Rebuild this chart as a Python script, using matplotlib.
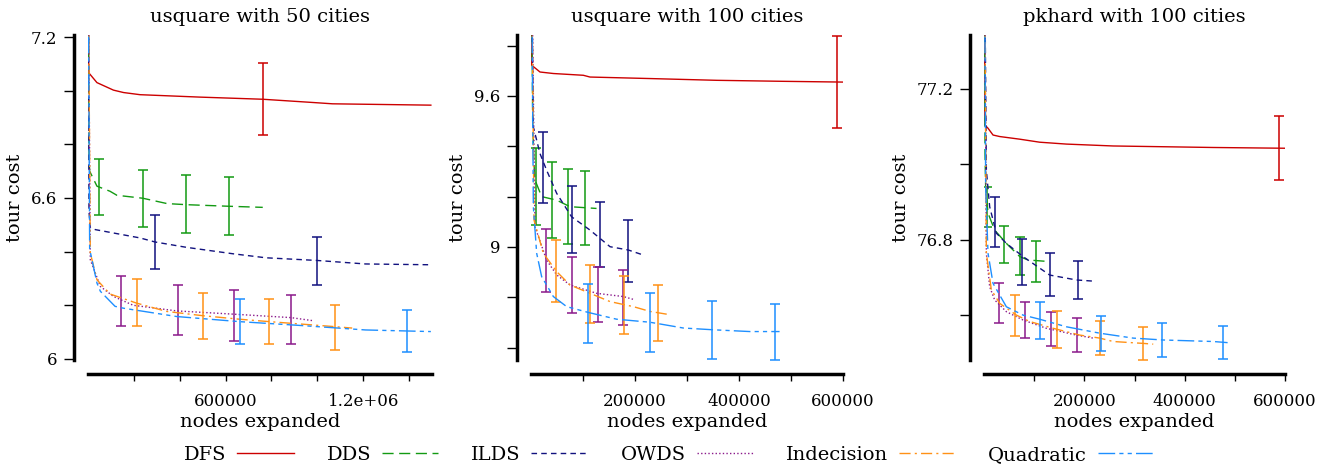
import matplotlib
matplotlib.use('Agg')
import matplotlib.pyplot as plt

plt.rcParams['font.family'] = ['DejaVu Serif']
plt.rcParams['font.size'] = 12

# algorithms, colours and line styles
algos = ['DFS', 'DDS', 'ILDS', 'OWDS', 'Indecision', 'Quadratic']
colors = ['#cc0000', '#139a13', '#12127f', '#8b1a8b', '#ff9116', '#1e8fff']
dashes = [(), (8, 4), (4, 3), (1, 1.6), (8, 3, 1.5, 3), (12, 3, 3, 3, 3, 3)]

titles = ['usquare with 50 cities', 'usquare with 100 cities', 'pkhard with 100 cities']

# --- usquare with 50 cities ---
us50_x = {
    'DFS': [1000, 2900, 39000, 111000, 155000, 227000, 487000, 762000, 979000, 1066000, 1495000],
    'DDS': [1000, 4300, 7200, 39000, 96000, 126000, 239000, 345000, 429000, 617000, 762000],
    'ILDS': [1000, 4300, 10000, 32000, 227000, 292000, 429000, 632000, 776000, 1000000, 1210000, 1495000],
    'OWDS': [1000, 10000, 54000, 111000, 197000, 387000, 632000, 885000, 986000],
    'Indecision': [1000, 10000, 39000, 96000, 212000, 343000, 502000, 661000, 791000, 1066000, 1152000],
    'Quadratic': [1000, 7200, 39000, 54000, 118000, 155000, 387000, 661000, 921000, 1210000, 1495000],
}
us50_y = {
    'DFS': [7.5, 7.067, 7.030, 7.002, 6.993, 6.985, 6.976, 6.968, 6.956, 6.951, 6.946],
    'DDS': [7.5, 6.75, 6.70, 6.644, 6.625, 6.61, 6.599, 6.579, 6.575, 6.569, 6.565],
    'ILDS': [7.5, 6.55, 6.49, 6.482, 6.451, 6.436, 6.416, 6.392, 6.377, 6.367, 6.354, 6.351],
    'OWDS': [7.5, 6.37, 6.27, 6.233, 6.2, 6.179, 6.167, 6.154, 6.142],
    'Indecision': [7.5, 6.395, 6.295, 6.242, 6.208, 6.177, 6.161, 6.148, 6.139, 6.121, 6.115],
    'Quadratic': [7.5, 6.41, 6.283, 6.252, 6.196, 6.189, 6.158, 6.139, 6.125, 6.108, 6.102],
}
us50_ex = {
    'DFS': [762000], 'DDS': [46000, 239000, 429000, 617000], 'ILDS': [292000, 1000000],
    'OWDS': [143000, 393000, 636000, 885000], 'Indecision': [215000, 502000, 791000, 1077000],
    'Quadratic': [664000, 1391000],
}
us50_ey = {
    'DFS': [6.968], 'DDS': [6.64, 6.599, 6.577, 6.569], 'ILDS': [6.436, 6.365],
    'OWDS': [6.215, 6.181, 6.162, 6.147], 'Indecision': [6.209, 6.159, 6.139, 6.117],
    'Quadratic': [6.14, 6.103],
}
us50_err = {
    'DFS': [0.134], 'DDS': [0.105, 0.106, 0.108, 0.108], 'ILDS': [0.100, 0.089],
    'OWDS': [0.093, 0.093, 0.094, 0.091], 'Indecision': [0.088, 0.086, 0.084, 0.083],
    'Quadratic': [0.085, 0.078],
}

# --- usquare with 100 cities ---
us100_x = {
    'DFS': [1000, 1300, 17300, 43000, 100600, 113500, 228800, 357000, 485000, 599000],
    'DDS': [1000, 3200, 5800, 7700, 20500, 49400, 75000, 126000],
    'ILDS': [1000, 4500, 17300, 30000, 49400, 78000, 113500, 152000, 187000, 216000],
    'OWDS': [1000, 7700, 30000, 49400, 75000, 126000, 177600, 200000],
    'Indecision': [1000, 5800, 23700, 49400, 75000, 113500, 152000, 196800, 228800, 261000],
    'Quadratic': [1000, 4500, 10900, 20500, 43000, 68600, 110000, 164700, 228800, 293000, 350600, 421000, 478000],
}
us100_y = {
    'DFS': [10.2, 9.722, 9.695, 9.689, 9.682, 9.675, 9.669, 9.662, 9.658, 9.655],
    'DDS': [10.2, 9.5, 9.33, 9.266, 9.2, 9.186, 9.16, 9.153],
    'ILDS': [10.2, 9.477, 9.371, 9.305, 9.213, 9.12, 9.067, 9.001, 8.988, 8.968],
    'OWDS': [10.2, 9.08, 8.948, 8.889, 8.849, 8.816, 8.803, 8.79],
    'Indecision': [10.2, 9.107, 8.975, 8.902, 8.849, 8.816, 8.783, 8.763, 8.744, 8.733],
    'Quadratic': [10.2, 9.16, 8.975, 8.882, 8.803, 8.763, 8.74, 8.713, 8.701, 8.678, 8.671, 8.664, 8.664],
}
us100_ex = {
    'DFS': [588000], 'DDS': [9000, 40000, 72000, 104000], 'ILDS': [24000, 78000, 133000, 187000],
    'OWDS': [29000, 78000, 128000, 176000], 'Indecision': [49000, 114000, 179000, 245000],
    'Quadratic': [110000, 229000, 349000, 469000],
}
us100_ey = {
    'DFS': [9.655], 'DDS': [9.24, 9.186, 9.161, 9.155], 'ILDS': [9.315, 9.11, 9.048, 8.983],
    'OWDS': [8.948, 8.849, 8.811, 8.8], 'Indecision': [8.905, 8.814, 8.77, 8.737],
    'Quadratic': [8.736, 8.701, 8.67, 8.663],
}
us100_err = {
    'DFS': [0.182], 'DDS': [0.154, 0.152, 0.148, 0.148], 'ILDS': [0.142, 0.133, 0.129, 0.124],
    'OWDS': [0.125, 0.113, 0.108, 0.11], 'Indecision': [0.124, 0.115, 0.114, 0.112],
    'Quadratic': [0.118, 0.118, 0.114, 0.112],
}

# --- pkhard with 100 cities ---
pk100_x = {
    'DFS': [1000, 1300, 8000, 18000, 31300, 71200, 111000, 164300, 257400, 357200, 457000, 600000],
    'DDS': [1000, 2000, 3300, 8000, 21300, 44600, 71200, 87800, 127700],
    'ILDS': [1000, 4700, 11300, 24600, 44600, 77800, 131000, 184300, 217500],
    'OWDS': [1000, 4700, 11300, 21300, 44600, 77800, 124400, 184300, 217500],
    'Indecision': [1000, 4700, 14600, 31300, 64500, 91100, 137700, 190900, 230800, 257400, 317300, 337300],
    'Quadratic': [1000, 3300, 8000, 18000, 44600, 77800, 111000, 164300, 230800, 297300, 357200, 457000, 485600],
}
pk100_y = {
    'DFS': [77.6, 77.105, 77.096, 77.078, 77.074, 77.067, 77.059, 77.054, 77.049, 77.047, 77.045, 77.043],
    'DDS': [77.6, 77.03, 76.941, 76.871, 76.826, 76.791, 76.756, 76.747, 76.743],
    'ILDS': [77.6, 76.985, 76.888, 76.818, 76.791, 76.756, 76.707, 76.694, 76.691],
    'OWDS': [77.6, 76.765, 76.676, 76.641, 76.61, 76.588, 76.566, 76.548, 76.54],
    'Indecision': [77.6, 76.765, 76.668, 76.632, 76.601, 76.584, 76.566, 76.548, 76.54, 76.531, 76.526, 76.524],
    'Quadratic': [77.6, 76.941, 76.765, 76.685, 76.623, 76.601, 76.59, 76.57, 76.553, 76.54, 76.535, 76.531, 76.528],
}
pk100_ex = {
    'DFS': [589000], 'DDS': [6000, 39000, 72500, 104000], 'ILDS': [21000, 76500, 132000, 187500],
    'OWDS': [29000, 81000, 133000, 185500], 'Indecision': [61000, 146000, 231000, 316000],
    'Quadratic': [111000, 233000, 355000, 477000],
}
pk100_ey = {
    'DFS': [77.043], 'DDS': [76.888, 76.788, 76.758, 76.742], 'ILDS': [76.848, 76.742, 76.708, 76.694],
    'OWDS': [76.633, 76.587, 76.565, 76.548], 'Indecision': [76.60, 76.563, 76.540, 76.526],
    'Quadratic': [76.586, 76.553, 76.535, 76.528],
}
pk100_err = {
    'DFS': [0.085], 'DDS': [0.053, 0.048, 0.051, 0.054], 'ILDS': [0.066, 0.061, 0.057, 0.051],
    'OWDS': [0.052, 0.048, 0.045, 0.046], 'Indecision': [0.054, 0.05, 0.044, 0.044],
    'Quadratic': [0.049, 0.046, 0.044, 0.043],
}

# axis ticks and labels
us50_xticks = [200000, 400000, 600000, 800000, 1000000, 1200000, 1400000]
us50_xlabels = ['', '', '600000', '', '', '1.2e+06', '']
us50_yticks = [6.0, 6.2, 6.4, 6.6, 6.8, 7.0, 7.2]
us50_ylabels = ['6', '', '', '6.6', '', '', '7.2']

us100_xticks = [100000, 200000, 300000, 400000, 500000, 600000]
us100_xlabels = ['', '200000', '', '400000', '', '600000']
us100_yticks = [8.6, 8.8, 9.0, 9.2, 9.4, 9.6, 9.8]
us100_ylabels = ['', '', '9', '', '', '9.6', '']

pk100_xticks = [100000, 200000, 300000, 400000, 500000, 600000]
pk100_xlabels = ['', '200000', '', '400000', '', '600000']
pk100_yticks = [76.6, 76.8, 77.0, 77.2]
pk100_ylabels = ['', '76.8', '', '77.2']

panels = [
    (us50_x, us50_y, us50_ex, us50_ey, us50_err, us50_xticks, us50_xlabels, us50_yticks, us50_ylabels,
     (0, 1500000), (5.996, 7.2075)),
    (us100_x, us100_y, us100_ex, us100_ey, us100_err, us100_xticks, us100_xlabels, us100_yticks, us100_ylabels,
     (0, 600000), (8.551, 9.842)),
    (pk100_x, pk100_y, pk100_ex, pk100_ey, pk100_err, pk100_xticks, pk100_xlabels, pk100_yticks, pk100_ylabels,
     (0, 600000), (76.482, 77.343)),
]

W, H = 1325, 470
fig = plt.figure(figsize=(W / 100, H / 100), dpi=100)

# axes boxes in pixels: left, right, top, bottom
boxes = [(88, 432, 35, 360), (531, 843, 35, 360), (984, 1285, 35, 360)]
ylabel_x = [-0.185, -0.205, -0.246]

handles = []
for k, (px, py, ex, ey, ee, xt, xl, yt, yl, xlim, ylim) in enumerate(panels):
    l, r, t, b = boxes[k]
    ax = fig.add_axes([l / W, (H - b) / H, (r - l) / W, (b - t) / H])
    for name, c, d in zip(algos, colors, dashes):
        line, = ax.plot(px[name], py[name], color=c, lw=1.0, label=name)
        if d:
            line.set_dashes(d)
        ax.errorbar(ex[name], ey[name], yerr=ee[name], fmt='none', ecolor=c,
                    elinewidth=1.3, capsize=3.6, capthick=1.3, alpha=0.85)
        if k == 0:
            handles.append(line)
    ax.set_xlim(*xlim)
    ax.set_ylim(*ylim)
    ax.set_xticks(xt)
    ax.set_xticklabels(xl)
    ax.set_yticks(yt)
    ax.set_yticklabels(yl)
    for s in ['top', 'right']:
        ax.spines[s].set_visible(False)
    for s in ['left', 'bottom']:
        ax.spines[s].set_position(('outward', 10))
        ax.spines[s].set_linewidth(2.5)
    ax.tick_params(direction='out', width=1.0, labelsize=12)
    ax.tick_params(axis='x', length=5, pad=9)
    ax.tick_params(axis='y', length=7, pad=5)
    ax.set_title(titles[k], fontsize=14, pad=9)
    ax.set_xlabel('nodes expanded', fontsize=14)
    ax.xaxis.set_label_coords(0.5, -0.162)
    ax.set_ylabel('tour cost', fontsize=14)
    ax.yaxis.set_label_coords(ylabel_x[k], 0.5)

fig.legend(handles, algos, loc='center', bbox_to_anchor=(0.505, 0.032), ncol=6,
           frameon=False, markerfirst=False, handlelength=2.9, handletextpad=0.55,
           columnspacing=1.7, fontsize=14)

fig.savefig('out.png', dpi=100)
